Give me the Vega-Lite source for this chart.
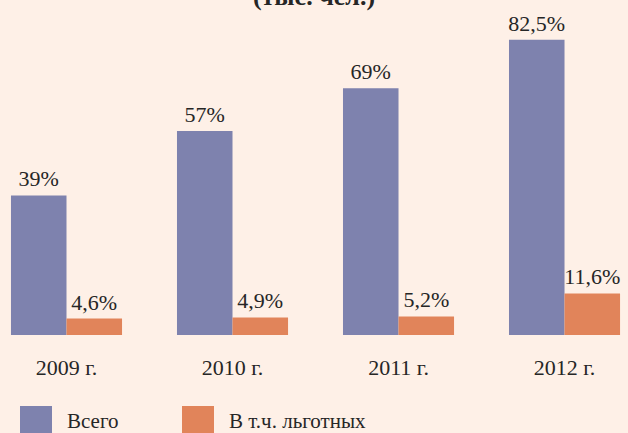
{
  "$schema": "https://vega.github.io/schema/vega-lite/v6.json",
  "autosize": {"type": "none"},
  "width": 628,
  "height": 322,
  "padding": {"left": 0, "top": 13, "right": 0, "bottom": 98},
  "background": "#FEF0E7",
  "title": {
    "text": "(тыс. чел.)",
    "font": "Liberation Serif",
    "fontSize": 26,
    "fontWeight": "bold",
    "color": "#262626",
    "anchor": "middle",
    "frame": "group",
    "baseline": "alphabetic",
    "offset": 0,
    "dy": 18
  },
  "data": {
    "values": [
      {"year": "2009 г.", "series": "Всего", "value": 39, "label": "39%"},
      {"year": "2009 г.", "series": "В т.ч. льготных", "value": 4.6, "label": "4,6%"},
      {"year": "2010 г.", "series": "Всего", "value": 57, "label": "57%"},
      {"year": "2010 г.", "series": "В т.ч. льготных", "value": 4.9, "label": "4,9%"},
      {"year": "2011 г.", "series": "Всего", "value": 69, "label": "69%"},
      {"year": "2011 г.", "series": "В т.ч. льготных", "value": 5.2, "label": "5,2%"},
      {"year": "2012 г.", "series": "Всего", "value": 82.5, "label": "82,5%"},
      {"year": "2012 г.", "series": "В т.ч. льготных", "value": 11.6, "label": "11,6%"}
    ]
  },
  "encoding": {
    "x": {
      "field": "year",
      "type": "nominal",
      "sort": null,
      "scale": {"paddingInner": 0.331, "paddingOuter": 0.057, "align": 0.58},
      "axis": {
        "title": null,
        "domain": false,
        "ticks": false,
        "grid": false,
        "labelAngle": 0,
        "labelFont": "Liberation Serif",
        "labelFontSize": 22,
        "labelColor": "#262626",
        "labelPadding": 22,
        "labelBaseline": "top"
      }
    },
    "xOffset": {
      "field": "series",
      "type": "nominal",
      "sort": ["Всего", "В т.ч. льготных"],
      "scale": {"paddingInner": 0, "paddingOuter": 0}
    },
    "y": {
      "field": "value",
      "type": "quantitative",
      "scale": {"domain": [0, 90], "nice": false, "zero": true},
      "axis": null
    }
  },
  "layer": [
    {
      "mark": {"type": "bar"},
      "encoding": {
        "color": {
          "field": "series",
          "type": "nominal",
          "sort": ["Всего", "В т.ч. льготных"],
          "scale": {"domain": ["Всего", "В т.ч. льготных"], "range": ["#7E82AE", "#E1845A"]},
          "legend": {
            "title": null,
            "orient": "none",
            "direction": "horizontal",
            "legendX": 20,
            "legendY": 393,
            "padding": 0,
            "symbolType": "square",
            "symbolSize": 1024,
            "symbolStrokeWidth": 0,
            "symbolOpacity": 1,
            "labelFont": "Liberation Serif",
            "labelFontSize": 21,
            "labelColor": "#262626",
            "labelOffset": 15,
            "columnPadding": 63,
            "labelLimit": 300
          }
        }
      }
    },
    {
      "mark": {
        "type": "text",
        "font": "Liberation Serif",
        "fontSize": 22,
        "color": "#262626",
        "baseline": "alphabetic",
        "align": "center",
        "dy": -9
      },
      "encoding": {
        "text": {"field": "label", "type": "nominal"}
      }
    }
  ],
  "config": {
    "view": {"stroke": null}
  }
}
